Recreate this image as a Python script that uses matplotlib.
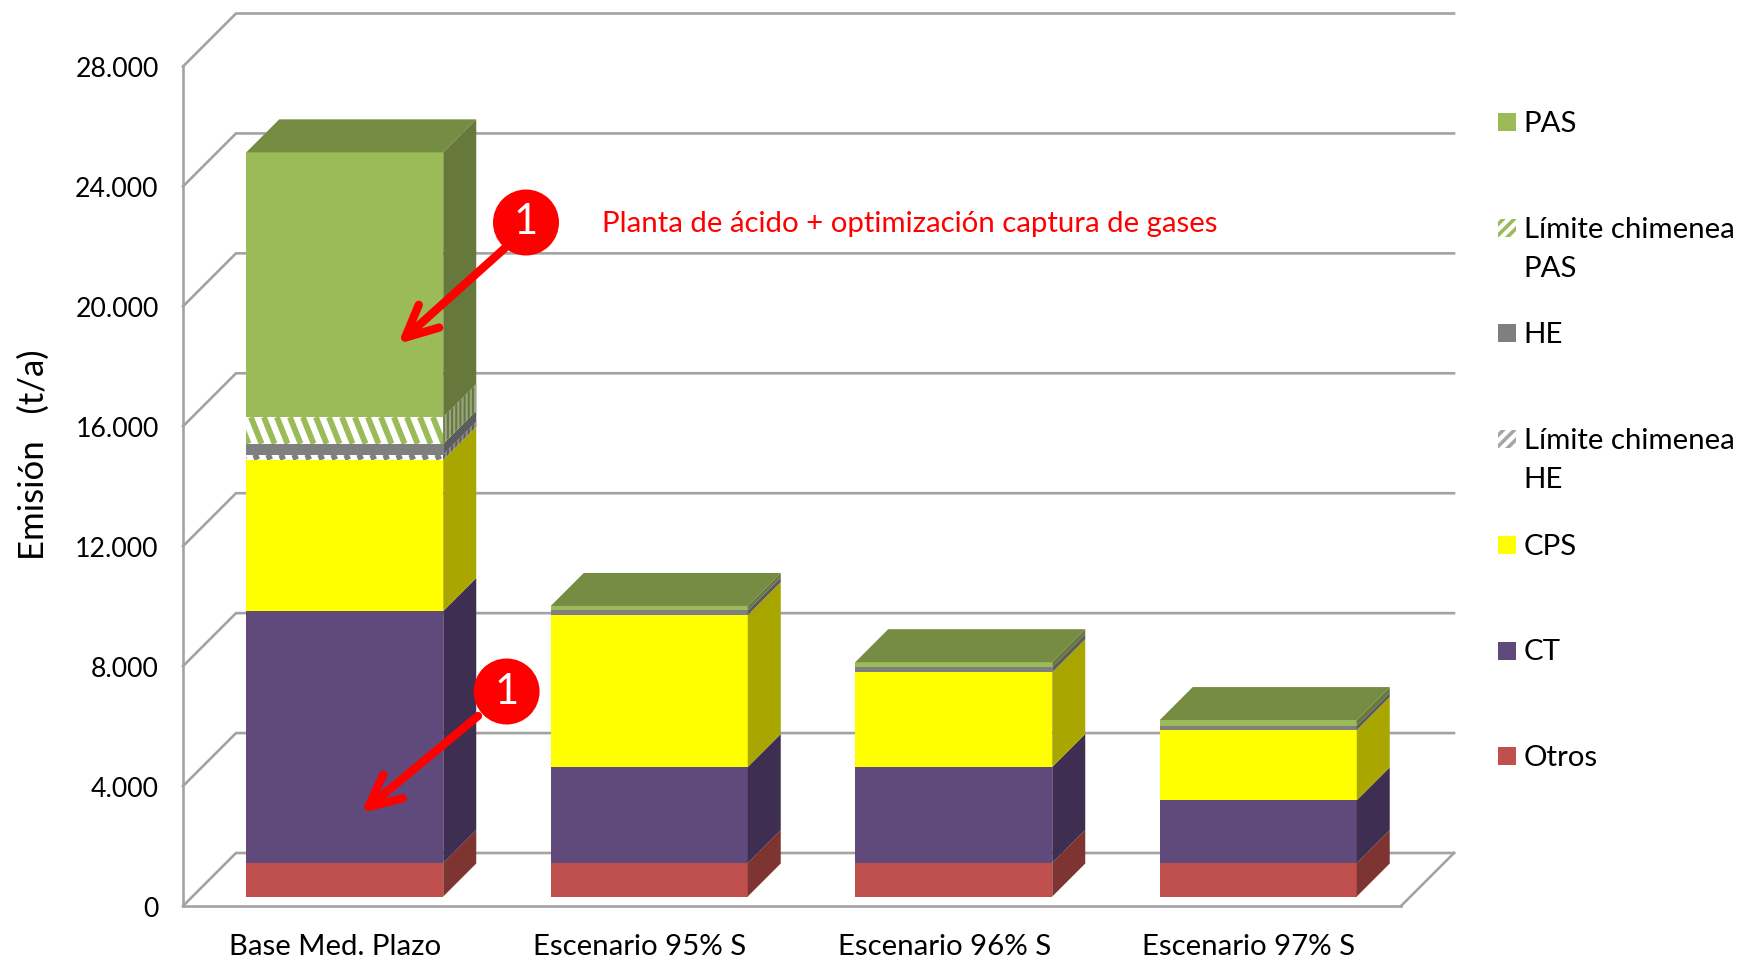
import matplotlib
matplotlib.use("Agg")
import matplotlib.pyplot as plt
from matplotlib.collections import LineCollection
from matplotlib.patches import Polygon, Rectangle, Circle
from matplotlib.transforms import IdentityTransform, Affine2D, blended_transform_factory

plt.rcParams['font.family'] = ['Lato', 'DejaVu Sans']
plt.rcParams['hatch.linewidth'] = 1.5

# ---- data ----
categories = ["Base Med. Plazo", "Escenario 95% S", "Escenario 96% S", "Escenario 97% S"]
otros = [1120, 1120, 1120, 1120]
ct = [8400, 3200, 3200, 2090]
cps = [5050, 5060, 3160, 2340]
lim_he = [170, 0, 0, 0]
he = [360, 165, 165, 145]
lim_pas = [890, 0, 0, 0]
pas = [8830, 145, 170, 190]
y_ticks = [0, 4000, 8000, 12000, 16000, 20000, 24000, 28000]
y_labels = ["0", "4.000", "8.000", "12.000", "16.000", "20.000", "24.000", "28.000"]
legend_labels = ["PAS", "Límite chimenea\nPAS", "HE", "Límite chimenea\nHE", "CPS", "CT", "Otros"]

# ---- styles ----
C_PAS, C_HE, C_CPS, C_CT, C_OT = "#9bbb59", "#7f7f7f", "#ffff00", "#604a7b", "#c0504d"
S_PAS, S_HE, S_CPS, S_CT, S_OT = "#66783b", "#5c5c5c", "#a9a600", "#3e2f52", "#7e3431"
C_TOP = "#778c43"
GRID = "#a3a3a3"
FS_TICK = 19.2
FS = 21.2

W, H = 1742, 960
fig = plt.figure(figsize=(W / 100, H / 100), dpi=100, facecolor="white")
LEFT, RIGHT, BOTTOM, TOP = 183, 1401, 906, 66.5
ax = fig.add_axes([LEFT / W, 1 - BOTTOM / H, (RIGHT - LEFT) / W, (BOTTOM - TOP) / H])
ax.set_xlim(-0.5, 3.5)
ax.set_ylim(0, 28000)
ax.patch.set_alpha(0)
PXX = 4 / (RIGHT - LEFT)          # data units per pixel
PXY = 28000 / (BOTTOM - TOP)

# ---- walls and floor ----
WALL = 53
for v in y_ticks:
    ax.plot([-0.5, -0.5 + WALL * PXX, 3.5 + WALL * PXX],
            [v, v + WALL * PXY, v + WALL * PXY],
            color=GRID, lw=1.9, clip_on=False, zorder=1, solid_joinstyle="miter")
ax.plot([3.5, 3.5 + WALL * PXX], [0, WALL * PXY], color=GRID, lw=1.9, clip_on=False, zorder=1)

for side in ("top", "right"):
    ax.spines[side].set_visible(False)
for side in ("left", "bottom"):
    ax.spines[side].set_color(GRID)
    ax.spines[side].set_linewidth(1.9)
ax.set_xticks(range(4), categories, fontsize=FS)
ax.set_yticks(y_ticks, y_labels, fontsize=FS_TICK)
ax.tick_params(axis="x", length=0, pad=20)
ax.tick_params(axis="y", length=0, pad=17.5)
for lbl in ax.get_yticklabels():
    lbl.set_transform(lbl.get_transform() + Affine2D().translate(0, -1))
ax.set_ylabel("Emisión   (t/a)", fontsize=25)
ax.yaxis.set_label_coords(50, (BOTTOM - 455) / (BOTTOM - TOP),
                          transform=blended_transform_factory(IdentityTransform(), ax.transAxes))

# ---- bars ----
layers = [
    (otros, C_OT, S_OT, None),
    (ct, C_CT, S_CT, None),
    (cps, C_CPS, S_CPS, None),
    (lim_he, "white", "#8a8a8a", C_HE),
    (he, C_HE, S_HE, None),
    (lim_pas, "white", "#9aa585", C_PAS),
    (pas, C_PAS, S_PAS, None),
]
OFF, BW, DEPTH = 9.5, 197, 33
bar_w = BW * PXX
ox, oy = OFF * PXX, OFF * PXY
dx, dy = DEPTH * PXX, DEPTH * PXY
cum = [0.0] * 4
for values, face, side_col, stripe in layers:
    for i, v in enumerate(values):
        if v <= 0:
            continue
        x0 = i + ox - bar_w / 2
        x1 = x0 + bar_w
        y0 = cum[i] + oy
        y1 = y0 + v
        rect = ax.bar(x0, v, width=bar_w, bottom=y0, align="edge", color=face,
                      linewidth=0, clip_on=False, zorder=3)[0]
        side = Polygon([(x1, y0), (x1, y1), (x1 + dx, y1 + dy), (x1 + dx, y0 + dy)],
                       closed=True, facecolor=side_col, linewidth=0, clip_on=False, zorder=3)
        if stripe:
            side.set_hatch("||||")
            side.set_edgecolor(S_PAS if stripe == C_PAS else S_HE)
            # diagonal stripes on the front face
            slant = 0.4 * (v / PXY) * PXX
            segs = []
            sx = x0 - 2 * slant
            while sx < x1 + slant:
                segs.append([(sx, y1), (sx + slant, y0)])
                sx += 13 * PXX
            lc = LineCollection(segs, colors=stripe, linewidths=4.2, zorder=4)
            ax.add_collection(lc, autolim=False)
            lc.set_clip_path(rect)
        ax.add_patch(side)
    cum = [c + v for c, v in zip(cum, values)]

for i, total in enumerate(cum):
    x0 = i + ox - bar_w / 2
    x1 = x0 + bar_w
    yt = total + oy
    ax.add_patch(Polygon([(x0, yt), (x1, yt), (x1 + dx, yt + dy), (x0 + dx, yt + dy)],
                         closed=True, facecolor=C_TOP, linewidth=0, clip_on=False, zorder=3))

# ---- legend ----
def fx(x):
    return x / W
def fy(y):
    return 1 - y / H

plt.rcParams['hatch.linewidth'] = 2.6
swatches = [(C_PAS, None), ("white", C_PAS), (C_HE, None), ("white", "#a6a6a6"),
            (C_CPS, None), (C_CT, None), (C_OT, None)]
for k, (label, (fc, hc)) in enumerate(zip(legend_labels, swatches)):
    yc = 122 + k * 105.7
    r = Rectangle((fx(1498), fy(yc + 9)), 18 / W, 18 / H, transform=fig.transFigure,
                  facecolor=fc, edgecolor=hc if hc else fc, linewidth=0,
                  hatch="///" if hc else None)
    fig.add_artist(r)
    for n, line in enumerate(label.split("\n")):
        fig.text(fx(1523.5), fy(yc + 10 + n * 39), line, fontsize=FS, color="black",
                 ha="left", va="baseline")

# ---- annotations ----
fig.text(fx(602), fy(224), "Planta de ácido + optimización captura de gases",
         fontsize=FS, color="#ff0000", ha="left", va="center")
arrows = [((505, 248), (398, 344)), ((478, 716), (361, 813))]
circles = [(526, 222.5), (506.6, 691.5)]
for (start, tip), (cx, cy) in zip(arrows, circles):
    ax.annotate("", xy=(tip[0], H - tip[1]), xytext=(start[0], H - start[1]),
                xycoords="figure pixels", textcoords="figure pixels",
                arrowprops=dict(arrowstyle="->,head_length=2.3,head_width=1.1", color="#ff0000",
                                lw=6, shrinkA=0, shrinkB=0, capstyle="round"),
                annotation_clip=False, zorder=10)
    fig.add_artist(Circle((cx, H - cy), 33, transform=IdentityTransform(),
                          facecolor="#ff0000", edgecolor="none", zorder=11))
    fig.text(fx(cx), fy(cy), "1", fontsize=30, color="white", ha="center",
             va="center", zorder=12)

fig.savefig("out.png", dpi=100, facecolor="white")
